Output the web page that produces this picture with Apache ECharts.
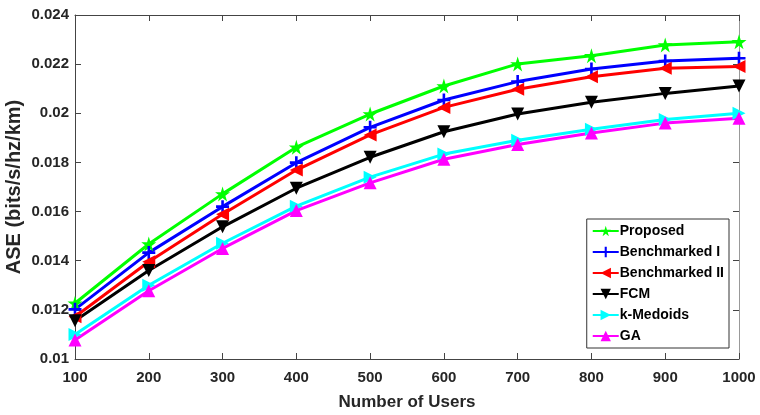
<!DOCTYPE html>
<html>
<head>
<meta charset="utf-8">
<script src="https://cdn.jsdelivr.net/npm/echarts@6/dist/echarts.min.js"></script>
<style>
    html, body { margin: 0; padding: 0; background: #fff; }
    #chart { width: 760px; height: 415px; }
</style>
</head>
<body>
<div id="chart"></div>
<script>
// 数据
const users = ['100', '200', '300', '400', '500', '600', '700', '800', '900', '1000'];
const proposed = [0.01227, 0.01468, 0.01672, 0.01862, 0.01997, 0.02111, 0.02201, 0.02234, 0.02278, 0.02291];
const benchI = [0.01202, 0.01433, 0.01620, 0.01799, 0.01943, 0.02054, 0.02129, 0.02180, 0.02213, 0.02224];
const benchII = [0.01172, 0.01396, 0.01589, 0.01769, 0.01912, 0.02024, 0.02098, 0.02149, 0.02183, 0.02190];
const fcm = [0.01156, 0.01360, 0.01538, 0.01695, 0.01821, 0.01925, 0.01997, 0.02045, 0.02081, 0.02111];
const kMedoids = [0.01100, 0.01300, 0.01471, 0.01622, 0.01740, 0.01834, 0.01890, 0.01935, 0.01975, 0.02000];
const ga = [0.01077, 0.01278, 0.01450, 0.01604, 0.01717, 0.01813, 0.01873, 0.01920, 0.01960, 0.01980];

const starPath = 'path://M50,0 L61,35 L98,35 L68,57 L79,91 L50,70 L21,91 L32,57 L2,35 L39,35 Z';
const plusPath = 'path://M4,0 H6 V4 H10 V6 H6 V10 H4 V6 H0 V4 H4 Z';

const font = "'Liberation Sans', Arial, sans-serif";
const axisColor = '#444';

function mkSeries (name, data, color, symbol, rotate, size) {
    return {
        name: name,
        type: 'line',
        data: data,
        symbol: symbol,
        symbolRotate: rotate,
        symbolSize: size,
        showAllSymbol: true,
        lineStyle: { color: color, width: 3 },
        itemStyle: { color: color },
        emphasis: { disabled: true },
        animation: false,
        z: 3
    };
}

let chart = echarts.init(document.getElementById('chart'));
chart.setOption({
    backgroundColor: '#fff',
    grid: { left: 75, right: 21, top: 15, bottom: 56, outerBoundsMode: 'none' },
    legend: {
        orient: 'vertical',
        right: 31,
        bottom: 67,
        itemWidth: 26,
        itemHeight: 13,
        itemGap: 7,
        padding: [5, 5, 5, 5],
        backgroundColor: '#fff',
        borderColor: '#333',
        borderWidth: 1,
        textStyle: { fontFamily: font, fontWeight: 'bold', fontSize: 14, color: '#000', padding: [0, 0, 0, -4] },
        data: ['Proposed', 'Benchmarked I', 'Benchmarked II', 'FCM', 'k-Medoids', 'GA']
    },
    xAxis: [
        {
            type: 'category',
            data: users,
            boundaryGap: false,
            name: 'Number of Users',
            nameLocation: 'middle',
            nameGap: 35,
            nameMoveOverlap: false,
            nameTextStyle: { fontFamily: font, fontWeight: 'bold', fontSize: 17, color: '#262626' },
            axisLine: { lineStyle: { color: axisColor } },
            axisTick: { inside: true, length: 6, lineStyle: { color: axisColor } },
            axisLabel: { fontFamily: font, fontWeight: 'bold', fontSize: 15, color: '#262626', margin: 11 },
            splitLine: { show: false }
        },
        {
            type: 'category',
            data: users,
            boundaryGap: false,
            position: 'top',
            axisLine: { lineStyle: { color: axisColor } },
            axisTick: { inside: true, length: 6, lineStyle: { color: axisColor } },
            axisLabel: { show: false },
            splitLine: { show: false }
        }
    ],
    yAxis: [
        {
            type: 'value',
            min: 0.01,
            max: 0.024,
            interval: 0.002,
            name: 'ASE (bits/s/hz/km)',
            nameLocation: 'middle',
            nameGap: 51,
            nameMoveOverlap: false,
            nameTextStyle: { fontFamily: font, fontWeight: 'bold', fontSize: 20, color: '#262626' },
            axisLine: { show: true, lineStyle: { color: axisColor } },
            axisTick: { show: true, inside: true, length: 6, lineStyle: { color: axisColor } },
            axisLabel: { fontFamily: font, fontWeight: 'bold', fontSize: 15, color: '#262626', margin: 6 },
            splitLine: { show: false }
        },
        {
            type: 'value',
            min: 0.01,
            max: 0.024,
            interval: 0.002,
            position: 'right',
            axisLine: { show: true, lineStyle: { color: '#999' } },
            axisTick: { show: true, inside: true, length: 6, lineStyle: { color: axisColor } },
            axisLabel: { show: false },
            splitLine: { show: false }
        }
    ],
    series: [
        mkSeries('Proposed', proposed, '#00ff00', starPath, 0, 15),
        mkSeries('Benchmarked I', benchI, '#0000ff', plusPath, 0, 13),
        mkSeries('Benchmarked II', benchII, '#ff0000', 'triangle', 90, 13),
        mkSeries('FCM', fcm, '#000000', 'triangle', 180, 13),
        mkSeries('k-Medoids', kMedoids, '#00ffff', 'triangle', -90, 13),
        mkSeries('GA', ga, '#ff00ff', 'triangle', 0, 13)
    ]
});
</script>
</body>
</html>
